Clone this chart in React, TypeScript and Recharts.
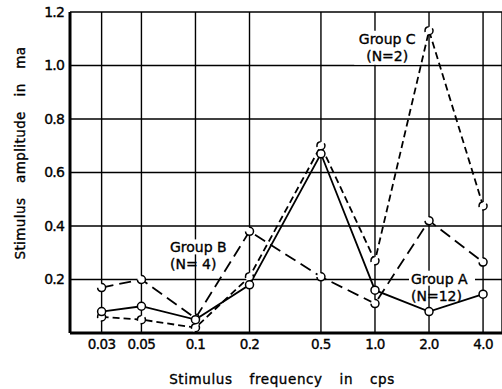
import React from 'react';
import { LineChart, Line, XAxis, YAxis, CartesianGrid, ReferenceDot } from 'recharts';

const frequencies = [0.03, 0.05, 0.1, 0.2, 0.5, 1.0, 2.0, 4.0];
const groupA = [0.08, 0.10, 0.05, 0.18, 0.67, 0.16, 0.08, 0.145];
const groupB = [0.17, 0.20, 0.055, 0.38, 0.21, 0.11, 0.42, 0.265];
const groupC = [0.06, 0.05, 0.02, 0.21, 0.70, 0.27, 1.13, 0.475];
const xTickLabels = ['0.03', '0.05', '0.1', '0.2', '0.5', '1.0', '2.0', '4.0'];
const yTicks = [0.2, 0.4, 0.6, 0.8, 1.0, 1.2];

const groupLabels = [
  { x: 1.17, y: 1.10, line1: 'Group C', line2: '(N=2)', anchor: 'middle', bgBoth: true },
  { x: 0.0721, y: 0.32, line1: 'Group B', line2: '(N= 4)', anchor: 'start', bgBoth: false },
  { x: 1.587, y: 0.203, line1: 'Group A', line2: '(N=12)', anchor: 'start', bgBoth: false },
];

const data = frequencies.map((f, i) => ({ f, a: groupA[i], b: groupB[i], c: groupC[i] }));

const FONT = 'DejaVu Sans, sans-serif';
const textStroke = { stroke: '#000', strokeWidth: 0.35 };

const dot = { r: 4, fill: '#fff', stroke: '#000', strokeWidth: 1.5 };

const GroupLabel = (props: any) => {
  const { viewBox, line1, line2, anchor, bgBoth } = props;
  const cx = viewBox.cx ?? viewBox.x;
  const cy = viewBox.cy ?? viewBox.y;
  const left = anchor === 'middle' ? cx - 33 : cx - 2;
  return (
    <g>
      <rect x={left} y={cy - 8} width={66} height={bgBoth ? 34 : 15} fill="#fff" />
      <text x={cx} y={cy} textAnchor={anchor} dominantBaseline="central" fontFamily={FONT} fontSize={14} fill="#000" {...textStroke}>{line1}</text>
      <text x={cx} y={cy + 17} textAnchor={anchor} dominantBaseline="central" fontFamily={FONT} fontSize={14} fill="#000" {...textStroke}>{line2}</text>
    </g>
  );
};

export default function App() {
  return (
    <div style={{ position: 'absolute', left: 0, top: 0, background: '#fff' }}>
      <LineChart width={502} height={389} data={data} margin={{ top: 12, right: 0, bottom: 0, left: 0 }}>
        <CartesianGrid stroke="#000" strokeWidth={1.4} strokeOpacity={1} />
        <XAxis
          dataKey="f"
          type="number"
          scale="log"
          domain={[0.02, 5.1]}
          allowDataOverflow
          ticks={frequencies}
          tickFormatter={(v: number) => xTickLabels[frequencies.indexOf(v)] ?? String(v)}
          height={56}
          tickSize={0}
          tickMargin={6}
          axisLine={{ stroke: '#000', strokeWidth: 3 }}
          tick={{ fill: '#000', fontSize: 13.5, fontFamily: FONT, letterSpacing: -0.6, ...textStroke }}
          label={{
            content: (p: any) => (
              <text x={p.viewBox.x + 212} y={p.viewBox.y + 51} textAnchor="middle" fontFamily={FONT} fontSize={13.5} wordSpacing={12} letterSpacing={0.6} fill="#000" {...textStroke}>
                Stimulus frequency in cps
              </text>
            ),
          }}
        />
        <YAxis
          type="number"
          domain={[0, 1.2]}
          ticks={yTicks}
          tickFormatter={(v: number) => v.toFixed(1)}
          width={70}
          tickSize={0}
          tickMargin={6}
          axisLine={{ stroke: '#000', strokeWidth: 3 }}
          tick={{ fill: '#000', fontSize: 14, fontFamily: FONT, letterSpacing: -0.8, ...textStroke }}
          label={{
            content: (p: any) => (
              <text
                x={20}
                y={p.viewBox.y + 141}
                transform={`rotate(-90, 20, ${p.viewBox.y + 141})`}
                textAnchor="middle"
                dominantBaseline="central"
                fontFamily={FONT}
                fontSize={13.5}
                wordSpacing={10}
                letterSpacing={0.4}
                fill="#000"
                {...textStroke}
              >
                Stimulus amplitude in ma
              </text>
            ),
          }}
        />
        <Line dataKey="c" stroke="#000" strokeWidth={1.8} strokeDasharray="7 4" dot={dot} isAnimationActive={false} />
        <Line dataKey="b" stroke="#000" strokeWidth={1.8} strokeDasharray="12 6" dot={dot} isAnimationActive={false} />
        <Line dataKey="a" stroke="#000" strokeWidth={1.8} dot={dot} isAnimationActive={false} />
        {groupLabels.map((g) => (
          <ReferenceDot
            key={g.line1}
            x={g.x}
            y={g.y}
            r={0}
            fill="none"
            stroke="none"
            ifOverflow="visible"
            label={{ content: (p: any) => <GroupLabel {...p} line1={g.line1} line2={g.line2} anchor={g.anchor} bgBoth={g.bgBoth} /> }}
          />
        ))}
      </LineChart>
    </div>
  );
}
